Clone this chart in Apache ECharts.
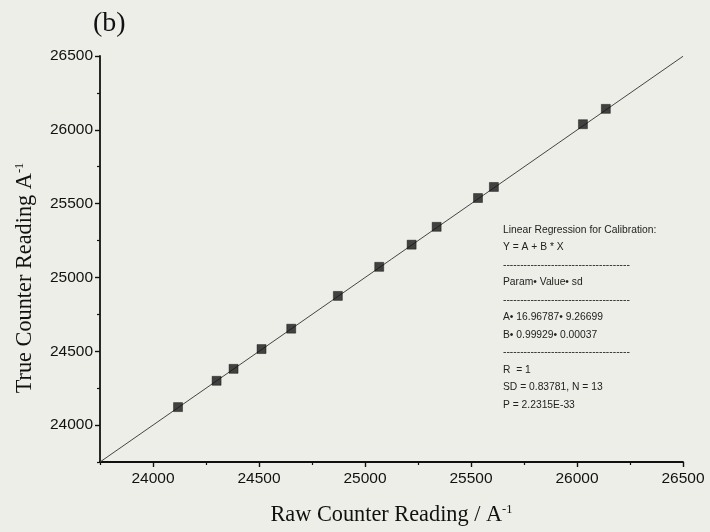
<!DOCTYPE html>
<html>
<head>
<meta charset="utf-8">
<script src="https://cdn.jsdelivr.net/npm/echarts@6/dist/echarts.min.js"></script>
<style>
html,body{margin:0;padding:0;background:#eeeee8;}
#chart{width:710px;height:532px;}
</style>
</head>
<body>
<div id="chart"></div>
<script>
// Data
var rawReading = [24118, 24300, 24380, 24512, 24652, 24872, 25067, 25220, 25338, 25533, 25608, 26028, 26136];
var trueReading = [24122, 24300, 24381, 24515, 24653, 24875, 25072, 25222, 25343, 25538, 25613, 26038, 26142];
var fitA = 16.96787;
var fitB = 0.99929;
var axisMin = 23750;
var axisMax = 26500;
var majorTicks = [24000, 24500, 25000, 25500, 26000, 26500];
var minorTicks = [23750, 24250, 24750, 25250, 25750, 26250];
var panelLabel = '(b)';
var xTitle = 'Raw Counter Reading / A';
var yTitle = 'True Counter Reading A';
var annotationLines = [
  'Linear Regression for Calibration:',
  'Y = A + B * X',
  '-------------------------------------',
  'Param\u2022 Value\u2022 sd',
  '-------------------------------------',
  'A\u2022 16.96787\u2022 9.26699',
  'B\u2022 0.99929\u2022 0.00037',
  '-------------------------------------',
  'R  = 1',
  'SD = 0.83781, N = 13',
  'P = 2.2315E-33'
];

var points = rawReading.map(function (x, i) { return [x, trueReading[i]]; });
var fitLine = [[axisMin, fitA + fitB * axisMin], [axisMax, fitA + fitB * axisMax]];

var chart = echarts.init(document.getElementById('chart'));
var ink = '#111';
var sans = '"Liberation Sans", Arial, sans-serif';
var serif = '"Liberation Serif", "Times New Roman", serif';

function mainAxis(isX) {
  var ax = {
    type: 'value', min: axisMin, max: axisMax,
    position: isX ? 'bottom' : 'left',
    splitLine: { show: false },
    axisLine: { show: true, onZero: false, lineStyle: { color: ink, width: 1.8 } },
    axisTick: { show: true, inside: false, length: 5, lineStyle: { color: ink, width: 1.4 }, customValues: majorTicks },
    axisLabel: {
      show: true, customValues: majorTicks, margin: isX ? 9 : 7, color: ink, fontFamily: sans, fontSize: 15.5,
      formatter: function (v) { return String(v); }
    },
    name: isX ? '{a|' + xTitle + '}{s|-1}' : '{a|' + yTitle + '}{s|-1}',
    nameLocation: 'middle',
    nameGap: isX ? 41 : 62,
    nameRotate: isX ? 0 : 90,
    nameTextStyle: {
      color: ink, fontFamily: serif,
      padding: isX ? 0 : [0, 38, 0, 0],
      rich: {
        a: { fontFamily: serif, fontSize: 22.3, color: ink, lineHeight: 25 },
        s: { fontFamily: serif, fontSize: 12.5, color: ink, lineHeight: 12, verticalAlign: 'top' }
      }
    }
  };
  return ax;
}
function minorAxis(isX) {
  return {
    type: 'value', min: axisMin, max: axisMax,
    position: isX ? 'bottom' : 'left',
    splitLine: { show: false },
    axisLine: { show: false, onZero: false },
    axisTick: { show: true, inside: false, length: 3, lineStyle: { color: ink, width: 1.2 }, customValues: minorTicks },
    axisLabel: { show: false }
  };
}

var graphics = [{
  type: 'text', left: 93, top: 10,
  style: { text: panelLabel, font: '28px ' + serif, fill: ink }
}];
annotationLines.forEach(function (t, i) {
  graphics.push({
    type: 'text', left: 503, top: 225 + i * 17.5,
    style: { text: t, font: '10.3px ' + sans, fill: '#222' }
  });
});

chart.setOption({
  backgroundColor: '#eeeee8',
  animation: false,
  grid: { left: 100, right: 27, top: 56, bottom: 70, containLabel: false },
  xAxis: [mainAxis(true), minorAxis(true)],
  yAxis: [mainAxis(false), minorAxis(false)],
  graphic: graphics,
  series: [
    {
      type: 'line', data: fitLine, xAxisIndex: 0, yAxisIndex: 0,
      symbol: 'none', lineStyle: { color: '#444', width: 1 }, silent: true, z: 2
    },
    {
      type: 'scatter', data: points, xAxisIndex: 0, yAxisIndex: 0,
      symbol: 'rect', symbolSize: 9,
      itemStyle: { color: '#151515', borderColor: '#000', borderWidth: 0.5 }, z: 3
    }
  ]
});
</script>
</body>
</html>
